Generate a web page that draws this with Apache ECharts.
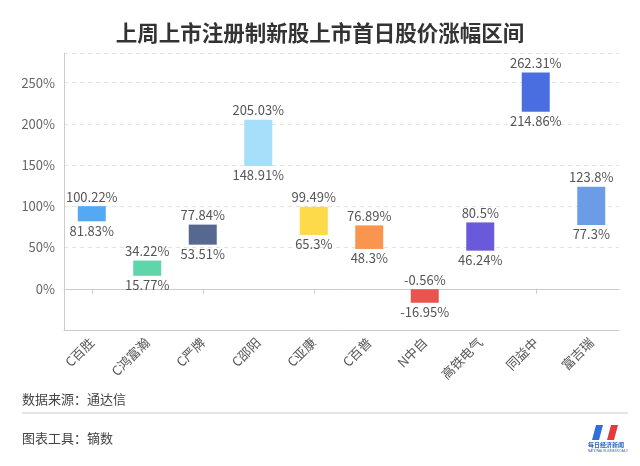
<!DOCTYPE html>
<html>
<head>
<meta charset="utf-8">
<script src="https://cdn.jsdelivr.net/npm/echarts@6/dist/echarts.min.js"></script>
<style>
  html, body { margin: 0; padding: 0; background: #fff; }
  #chart { width: 640px; height: 466px; }
</style>
</head>
<body>
<div id="chart"></div>
<script>
const categories = ["C百胜", "C鸿富瀚", "C严牌", "C邵阳", "C亚康", "C百普", "N中自", "高铁电气", "同益中", "富吉瑞"];
const lowValues = [81.83, 15.77, 53.51, 148.91, 65.3, 48.3, -16.95, 46.24, 214.86, 77.3];
const highValues = [100.22, 34.22, 77.84, 205.03, 99.49, 76.89, -0.56, 80.5, 262.31, 123.8];
const barColors = ["#55a8f2", "#5ed6a9", "#56688f", "#a6dffa", "#fdda4a", "#fa9550", "#e8554e", "#6b59dc", "#4a6ee0", "#6b9ce6"];

const FONT = '"Noto Sans CJK SC", "Noto Sans", sans-serif';
const chart = echarts.init(document.getElementById("chart"));

const rangeData = categories.map((c, i) => [i, lowValues[i], highValues[i]]);

const option = {
  backgroundColor: "#fff",
  textStyle: { fontFamily: FONT },
  title: {
    text: "上周上市注册制新股上市首日股价涨幅区间",
    left: "center",
    top: 17,
    textStyle: { fontSize: 21.5, fontWeight: "bold", color: "#333", fontFamily: FONT },
  },
  grid: { left: 64, right: 21, top: 53, bottom: 136 },
  xAxis: [
    {
      type: "category",
      data: categories,
      position: "bottom",
      axisLine: { onZero: false, lineStyle: { color: "#ccc" } },
      axisTick: { show: false },
      axisLabel: { rotate: 45, fontSize: 13, color: "#555", margin: 10, interval: 0, fontFamily: FONT },
    },
    {
      type: "category",
      data: categories,
      position: "bottom",
      axisLine: { onZero: true, lineStyle: { color: "#ccc" } },
      axisTick: { show: true, alignWithLabel: true, length: 5, inside: false, lineStyle: { color: "#ccc" } },
      axisLabel: { show: false },
    },
  ],
  yAxis: {
    type: "value",
    min: -50,
    max: 286,
    interval: 50,
    axisLine: { show: true, lineStyle: { color: "#ccc" } },
    axisTick: { show: false },
    axisLabel: {
      fontSize: 13, color: "#666", margin: 9, fontFamily: FONT,
      showMinLabel: false, showMaxLabel: false,
      formatter: (v) => v + "%",
    },
    splitLine: { show: true, lineStyle: { color: "#e3e3e3", type: [4, 4] } },
  },
  series: [
    {
      type: "custom",
      xAxisIndex: 0,
      data: rangeData,
      encode: { x: 0, y: [1, 2] },
      renderItem: function (params, api) {
        const idx = api.value(0);
        const lo = api.coord([idx, api.value(1)]);
        const hi = api.coord([idx, api.value(2)]);
        const w = 28;
        return {
          type: "group",
          children: [
            {
              type: "rect",
              shape: { x: lo[0] - w / 2, y: hi[1], width: w, height: lo[1] - hi[1] },
              style: { fill: barColors[params.dataIndex] },
            },
            {
              type: "text",
              style: {
                text: api.value(2) + "%", x: hi[0], y: hi[1] - 3,
                textAlign: "center", textVerticalAlign: "bottom",
                fill: "#555", font: "13px " + FONT,
              },
            },
            {
              type: "text",
              style: {
                text: api.value(1) + "%", x: lo[0], y: lo[1] + 3,
                textAlign: "center", textVerticalAlign: "top",
                fill: "#555", font: "13px " + FONT,
              },
            },
          ],
        };
      },
    },
  ],
  graphic: [
    { type: "text", left: 22, top: 393, style: { text: "数据来源：通达信", font: "13px " + FONT, fill: "#444" } },
    { type: "line", shape: { x1: 22, y1: 413, x2: 628, y2: 413 }, style: { stroke: "#ccc", lineWidth: 1 } },
    { type: "text", left: 22, top: 432, style: { text: "图表工具：镝数", font: "13px " + FONT, fill: "#444" } },
    { type: "polygon", shape: { points: [[592, 440], [596, 425], [603, 425], [599, 440]] }, style: { fill: "#2f6fdc" } },
    { type: "polygon", shape: { points: [[600, 433], [607, 440], [611, 425], [618, 425], [614, 440], [607, 440]] }, style: { fill: "#e03c3c" } },
    { type: "text", x: 588, y: 442, style: { text: "每日经济新闻", font: "bold 6px " + FONT, fill: "#2f5fb8" } },
    { type: "text", x: 588, y: 450, style: { text: "NATIONAL BUSINESS DAILY", font: "3px sans-serif", fill: "#2f5fb8" } },
  ],
};

chart.setOption(option);
window.onresize = function () {
  chart.resize();
};
</script>
</body>
</html>
